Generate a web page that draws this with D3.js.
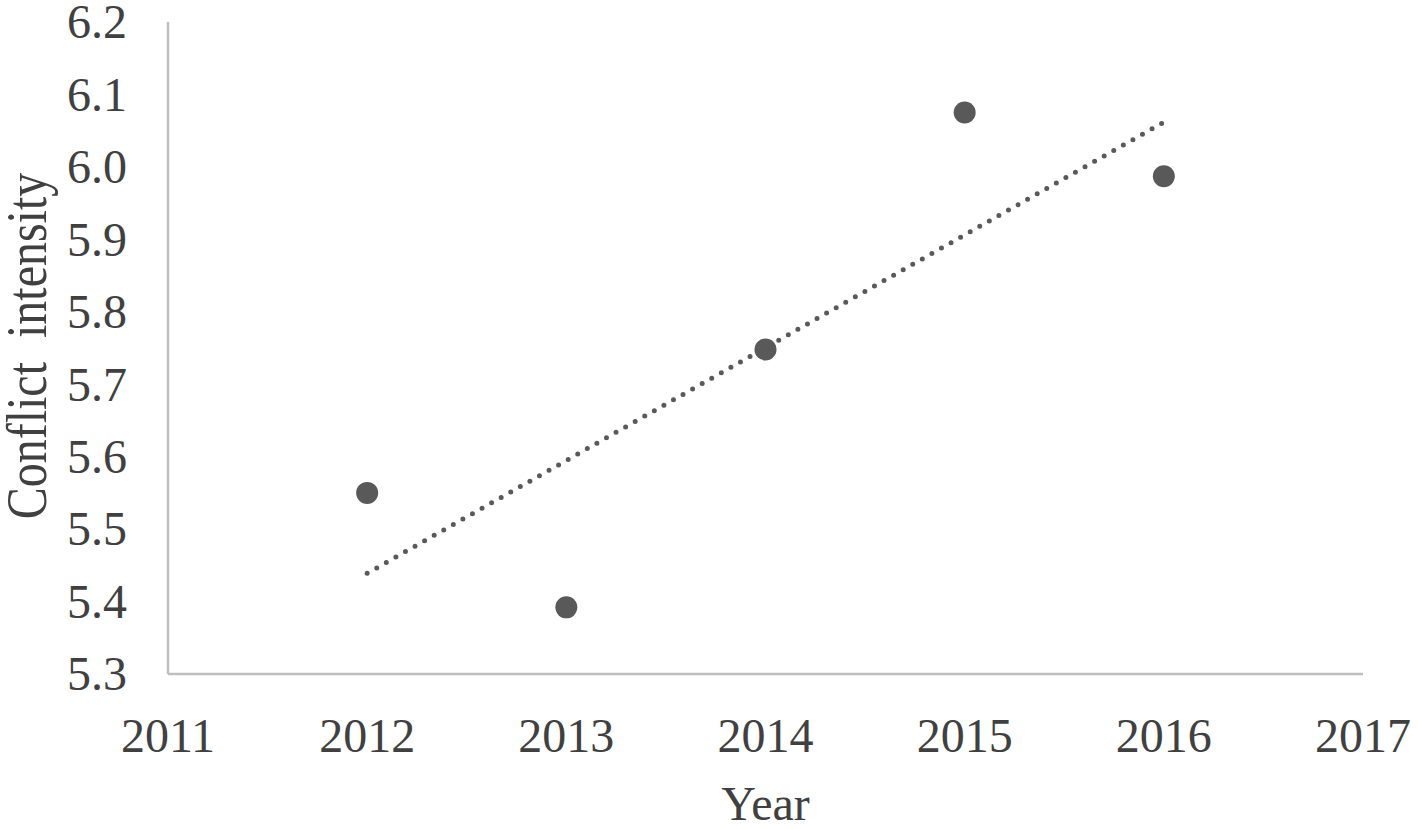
<!DOCTYPE html>
<html>
<head>
<meta charset="utf-8">
<script src="https://cdn.jsdelivr.net/npm/d3@7"></script>
<style>
  body { margin: 0; background: #fff; }
  svg text { font-family: "Liberation Serif", "Times New Roman", Times, "DejaVu Serif", serif; fill: #404040; }
</style>
</head>
<body>
<svg id="chart" width="1418" height="829"></svg>
<script>
// data
var years = [2012, 2013, 2014, 2015, 2016];
var intensity = [5.55, 5.392, 5.748, 6.075, 5.987];
var xTicks = [2011, 2012, 2013, 2014, 2015, 2016, 2017];
var yTicks = [5.3, 5.4, 5.5, 5.6, 5.7, 5.8, 5.9, 6.0, 6.1, 6.2];

var svg = d3.select("#chart");

var x = d3.scaleLinear().domain([2011, 2017]).range([168, 1363]);
var y = d3.scaleLinear().domain([5.3, 6.2]).range([674, 22]);

// axis lines (left + bottom only)
svg.append("line")
    .attr("x1", x(2011)).attr("x2", x(2011))
    .attr("y1", y(6.2)).attr("y2", y(5.3))
    .attr("stroke", "#bfbfbf").attr("stroke-width", 2.5);
svg.append("line")
    .attr("x1", x(2011)).attr("x2", x(2017))
    .attr("y1", y(5.3)).attr("y2", y(5.3))
    .attr("stroke", "#bfbfbf").attr("stroke-width", 2.5);

// tick labels
svg.selectAll(".ylab").data(yTicks).enter().append("text")
    .attr("class", "ylab")
    .attr("x", 127)
    .attr("y", function (d) { return y(d); })
    .attr("dy", "0.34em")
    .attr("text-anchor", "end")
    .attr("font-size", 48)
    .text(function (d) { return d.toFixed(1); });

svg.selectAll(".xlab").data(xTicks).enter().append("text")
    .attr("class", "xlab")
    .attr("x", function (d) { return x(d); })
    .attr("y", 752)
    .attr("text-anchor", "middle")
    .attr("font-size", 48)
    .text(function (d) { return d; });

// axis titles
svg.append("text")
    .attr("x", x(2014))
    .attr("y", 820)
    .attr("text-anchor", "middle")
    .attr("font-size", 48)
    .text("Year");

svg.append("text")
    .attr("transform", "translate(46," + ((172 + 520) / 2) + ") rotate(-90) scale(1,1.2)")
    .attr("text-anchor", "middle")
    .attr("font-size", 48)
    .style("white-space", "pre")
    .text("Conflict  intensity");

// linear trendline (least squares)
var n = years.length;
var mx = d3.mean(years), my = d3.mean(intensity);
var sxy = 0, sxx = 0;
for (var i = 0; i < n; i++) {
    sxy += (years[i] - mx) * (intensity[i] - my);
    sxx += (years[i] - mx) * (years[i] - mx);
}
var slope = sxy / sxx;
var icpt = my - slope * mx;
var x0 = years[0], x1 = years[n - 1];

svg.append("line")
    .attr("x1", x(x0)).attr("y1", y(icpt + slope * x0))
    .attr("x2", x(x1)).attr("y2", y(icpt + slope * x1))
    .attr("stroke", "#595959")
    .attr("stroke-width", 5)
    .attr("stroke-linecap", "round")
    .attr("stroke-dasharray", "0 11");

// points
svg.selectAll("circle").data(years).enter().append("circle")
    .attr("cx", function (d) { return x(d); })
    .attr("cy", function (d, i) { return y(intensity[i]); })
    .attr("r", 11)
    .attr("fill", "#595959");
</script>
</body>
</html>
